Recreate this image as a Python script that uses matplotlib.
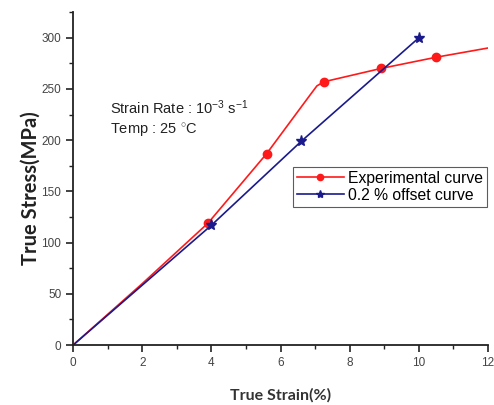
import numpy as np
import matplotlib
matplotlib.use('Agg')
import matplotlib.pyplot as plt
from matplotlib.ticker import MultipleLocator

# experimental curve: line path and marker points
exp_line_x = [0, 2.0, 3.9, 5.6, 6.85, 7.05, 7.25, 8.9, 10.5, 12.0]
exp_line_y = [0, 60, 119, 187, 244, 253, 257, 270, 281, 290]
exp_mark_x = [3.9, 5.6, 7.25, 8.9, 10.5]
exp_mark_y = [119, 187, 257, 270, 281]

# 0.2 % offset curve
off_x = [0, 4.0, 6.6, 10.0]
off_y = [0, 117, 199, 300]

plt.rcParams['font.family'] = ['Liberation Sans', 'DejaVu Sans']
plt.rcParams['mathtext.fontset'] = 'custom'
plt.rcParams['mathtext.rm'] = 'Liberation Sans'
plt.rcParams['mathtext.it'] = 'Liberation Sans:italic'

fig = plt.figure(figsize=(4.94, 4.05), dpi=100)
ax = fig.add_axes([0.148, 0.148, 0.840, 0.822])

ax.plot(exp_line_x, exp_line_y, '-', color='#ff1a1a', lw=1.2)
ax.plot(exp_mark_x, exp_mark_y, 'o', color='#ff1a1a', ms=6)
ax.plot(off_x, off_y, '-', color='#1a1a8c', lw=1.2, marker='*', ms=8,
        markevery=[1, 2, 3])

# legend handles
h1, = ax.plot([], [], '-o', color='#ff1a1a', lw=1.2, ms=4.5)
h2, = ax.plot([], [], '-*', color='#1a1a8c', lw=1.2, ms=6)
leg = ax.legend([h1, h2], ['Experimental curve', '0.2 % offset curve'],
                loc='upper right', bbox_to_anchor=(0.998, 0.535),
                fontsize=11.3, frameon=True, fancybox=False,
                handlelength=3.0, borderpad=0.25, labelspacing=0.12,
                handletextpad=0.3, borderaxespad=0)
leg.get_frame().set_edgecolor('#333333')
leg.get_frame().set_linewidth(0.8)

ax.text(1.07, 232, 'Strain Rate : 10$^{-3}$ s$^{-1}$', fontsize=10.5,
        va='center', color='#222222')
ax.text(1.07, 210, 'Temp : 25 $^{\\circ}$C', fontsize=10.5,
        va='center', color='#222222')

ax.set_xlim(0, 12)
ax.set_ylim(0, 325)
ax.xaxis.set_major_locator(MultipleLocator(2))
ax.xaxis.set_minor_locator(MultipleLocator(1))
ax.yaxis.set_minor_locator(MultipleLocator(25))
ax.set_yticks([0, 50, 100, 150, 200, 250, 300])

for s in ['top', 'right']:
    ax.spines[s].set_visible(False)
for s in ['left', 'bottom']:
    ax.spines[s].set_linewidth(1.3)
    ax.spines[s].set_color('#222222')

ax.tick_params(which='major', length=5, width=1.2, colors='#222222',
               labelsize=8.5, labelcolor='#444444', direction='out')
ax.tick_params(which='minor', length=3, width=1.0, colors='#222222',
               direction='out')

ax.set_xlabel('True Strain(%)', fontsize=11.5, fontweight='bold',
              color='#333333', labelpad=14, family=['Lato', 'DejaVu Sans'])
ax.set_ylabel('True Stress(MPa)', fontsize=14.5, fontweight='bold',
              color='#222222', family=['Lato', 'DejaVu Sans'])
ax.yaxis.set_label_coords(-0.078, 0.47)

fig.savefig('out.png', dpi=100)
